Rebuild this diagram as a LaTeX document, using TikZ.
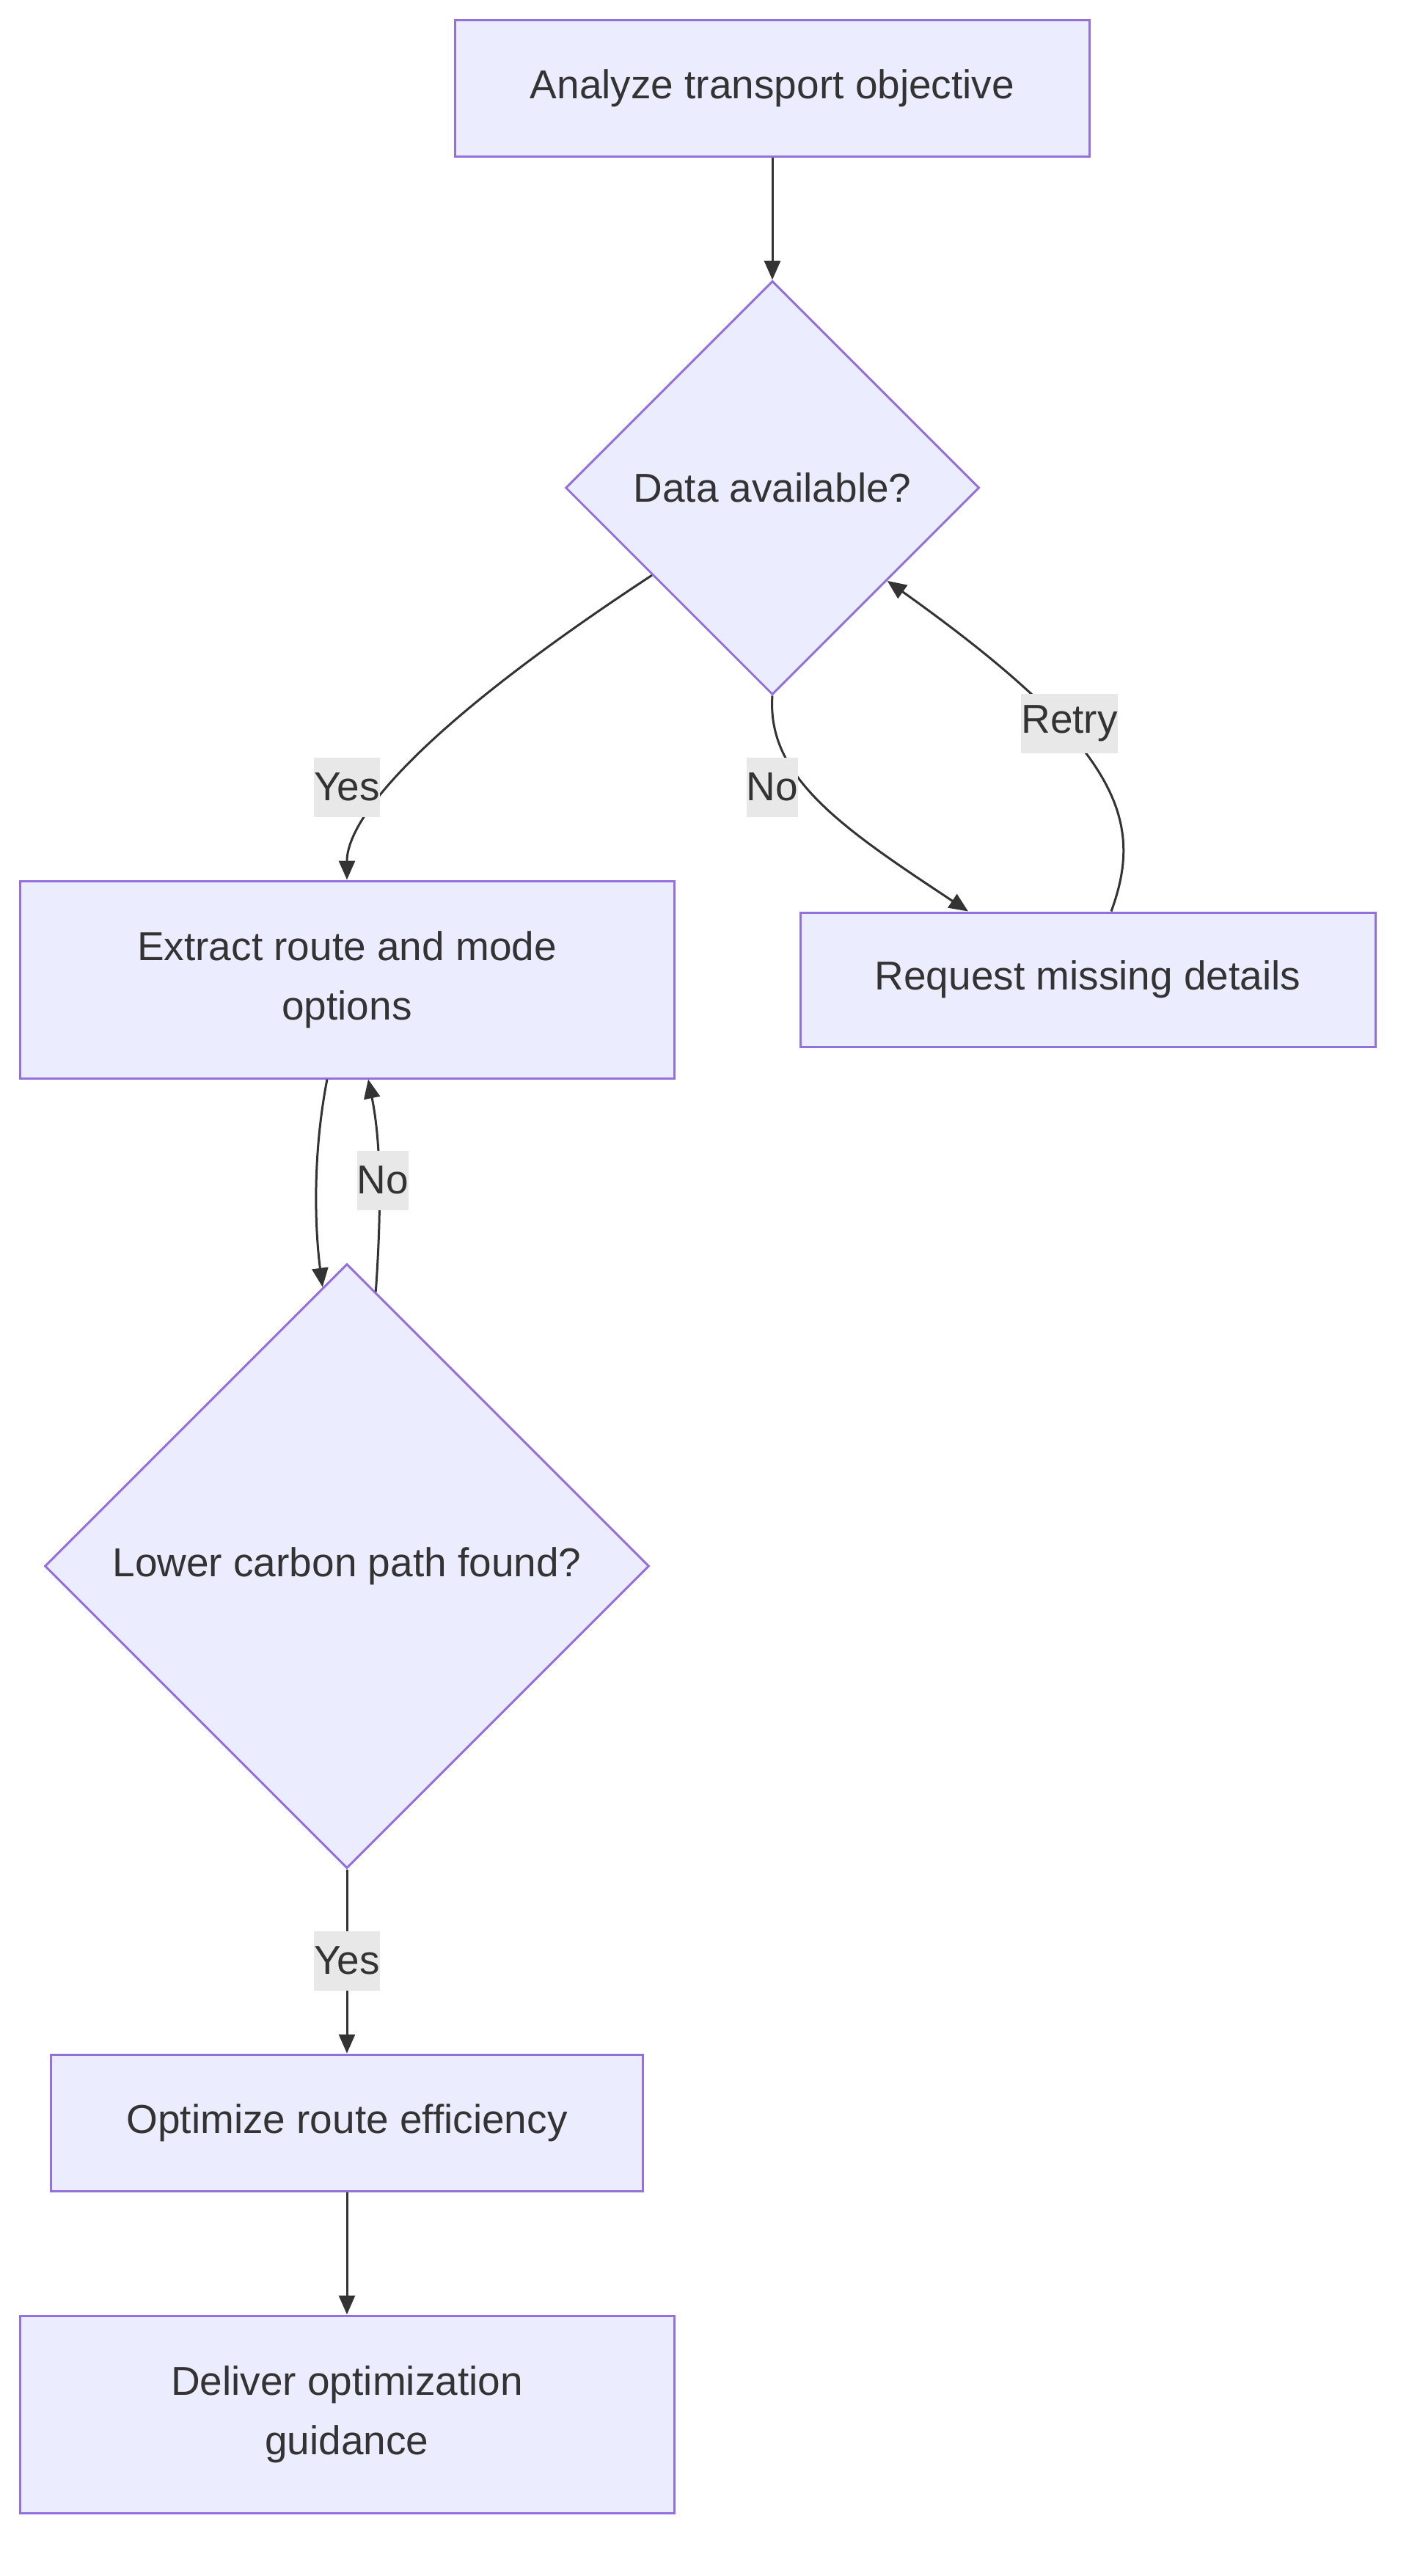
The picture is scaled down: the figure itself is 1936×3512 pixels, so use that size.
\documentclass[tikz,border=0pt]{standalone}
\usepackage{fontspec}
\setmainfont{Liberation Sans}
\usepackage{xcolor}
\usepackage{tikz}
\usetikzlibrary{shapes.geometric, arrows.meta, positioning}

\definecolor{nodefill}{HTML}{ECECFF}
\definecolor{nodeline}{HTML}{9370DB}
\definecolor{ink}{HTML}{333333}
\definecolor{lblbg}{HTML}{E8E8E8}

\begin{document}
\begin{tikzpicture}[x=0.5pt, y=-0.5pt,
        box/.style={draw=nodeline, fill=nodefill, line width=1.5pt, text=ink, align=center, font=\fontsize{27.5}{40.5}\selectfont, inner sep=0pt},
        decision/.style={box, diamond, aspect=1},
        lbl/.style={fill=lblbg, text=ink, font=\fontsize{27.5}{40.5}\selectfont, inner xsep=0pt, inner ysep=0pt, minimum height=40.5pt},
        link/.style={draw=ink, line width=1.5pt, -{Triangle[length=13pt, width=11pt]}}
    ]
    \useasboundingbox (0,0) rectangle (1936,3512);

    \node[box, minimum width=432.5pt, minimum height=93pt] (analyze) at (1053,120) {Analyze transport objective};
    \node[decision, minimum width=282pt, minimum height=282pt] (data) at (1053,665) {Data available?};
    \node[box, minimum width=446pt, minimum height=134.5pt] (extract) at (473,1335.5) {Extract route and mode\\options};
    \node[box, minimum width=392pt, minimum height=91.5pt] (request) at (1483,1335.5) {Request missing details};
    \node[decision, minimum width=412pt, minimum height=412pt] (carbon) at (473,2135) {Lower carbon path found?};
    \node[box, minimum width=403.5pt, minimum height=93pt] (optimize) at (473,2894) {Optimize route efficiency};
    \node[box, minimum width=446pt, minimum height=134.5pt] (deliver) at (473,3291.5) {Deliver optimization\\guidance};

    % Ligações entre as etapas
    \draw[link] (analyze.south) -- (data.north);
    \draw[link] (data.216) .. controls (560,1000) and (473,1120) .. (extract.north);
    \draw[link] (data.south) .. controls (1045,1060) and (1150,1130) .. ([xshift=-81.5pt]request.north);
    \draw[link] ([xshift=16pt]request.north) .. controls (1560,1120) and (1530,1020) .. (data.-39);
    \draw[link] ([xshift=-13.5pt]extract.south) .. controls (425,1580) and (430,1680) .. (carbon.95);
    \draw[link] (carbon.84) .. controls (520,1650) and (520,1560) .. ([xshift=14.5pt]extract.south);
    \draw[link] (carbon.south) -- (optimize.north);
    \draw[link] (optimize.south) -- (deliver.north);

    % Rótulos das ligações
    \node[lbl] (yesdata) at (473,1073) {Yes};
    \node[lbl] (nodata) at (1053,1073) {No};
    \node[lbl] (retry) at (1458,986) {Retry};
    \node[lbl] (nocarbon) at (522,1609) {No};
    \node[lbl] (yescarbon) at (473,2673) {Yes};
\end{tikzpicture}
\end{document}
